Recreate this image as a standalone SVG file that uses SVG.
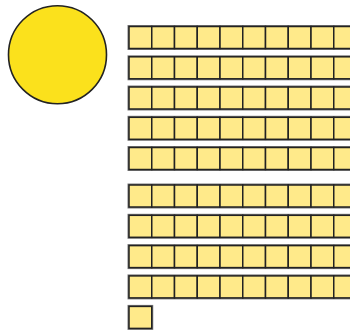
<svg xmlns="http://www.w3.org/2000/svg" xmlns:xlink="http://www.w3.org/1999/xlink" width="350" height="331" viewBox="0 0 350 331">
  <style>
    .sq { fill: #FFEA8A; stroke: #222; stroke-width: 1.5; }
    .halo { fill: none; stroke: #7a7a7a; stroke-width: 3; }
    .big { fill: #FBE11C; stroke: #222; stroke-width: 1.6; }
  </style>
  <defs>
    <g id="row">
      <rect class="halo" x="129" y="0" width="227.5" height="22"/>
      <rect class="sq" x="129" y="0" width="22.75" height="22"/>
      <rect class="sq" x="151.75" y="0" width="22.75" height="22"/>
      <rect class="sq" x="174.5" y="0" width="22.75" height="22"/>
      <rect class="sq" x="197.25" y="0" width="22.75" height="22"/>
      <rect class="sq" x="220" y="0" width="22.75" height="22"/>
      <rect class="sq" x="242.75" y="0" width="22.75" height="22"/>
      <rect class="sq" x="265.5" y="0" width="22.75" height="22"/>
      <rect class="sq" x="288.25" y="0" width="22.75" height="22"/>
      <rect class="sq" x="311" y="0" width="22.75" height="22"/>
      <rect class="sq" x="333.75" y="0" width="22.75" height="22"/>
    </g>
  </defs>
  <g id="hundred">
    <circle class="big" cx="57.5" cy="54.7" r="49"/>
  </g>
  <g id="ten-1"><use xlink:href="#row" y="26.5"/></g>
  <g id="ten-2"><use xlink:href="#row" y="56.8"/></g>
  <g id="ten-3"><use xlink:href="#row" y="87"/></g>
  <g id="ten-4"><use xlink:href="#row" y="117.3"/></g>
  <g id="ten-5"><use xlink:href="#row" y="147.5"/></g>
  <g id="ten-6"><use xlink:href="#row" y="185"/></g>
  <g id="ten-7"><use xlink:href="#row" y="215.3"/></g>
  <g id="ten-8"><use xlink:href="#row" y="245.6"/></g>
  <g id="ten-9"><use xlink:href="#row" y="275.9"/></g>
  <g id="one">
    <rect class="halo" x="129" y="306.4" width="22.75" height="22"/>
    <rect class="sq" x="129" y="306.4" width="22.75" height="22"/>
  </g>
  <g id="connectors"/>
</svg>
